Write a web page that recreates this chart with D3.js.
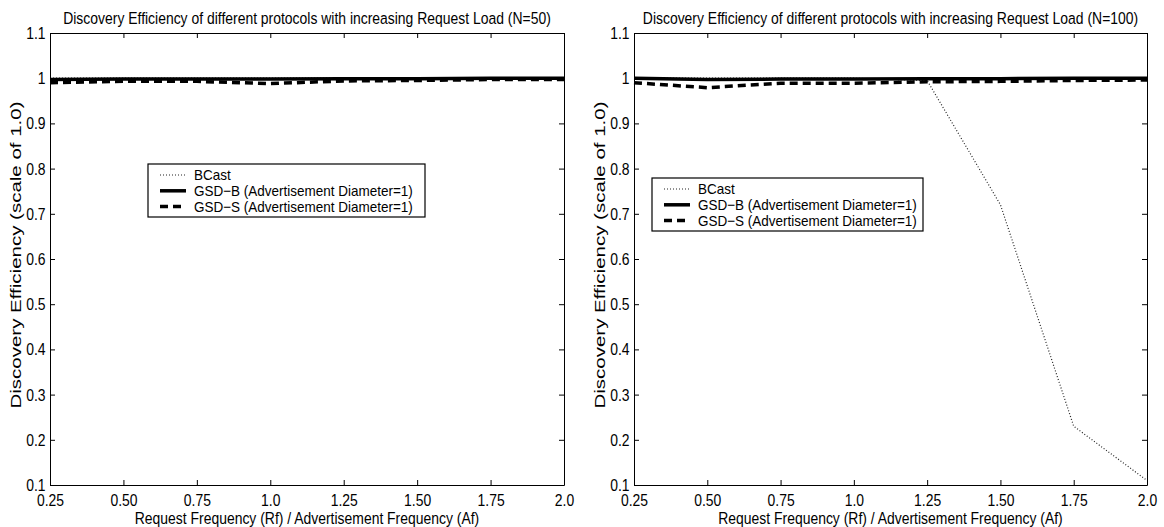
<!DOCTYPE html>
<html><head><meta charset="utf-8">
<script src="https://cdn.jsdelivr.net/npm/d3@7"></script>
<style>
body{margin:0;background:#fff;}
svg{display:block;font-family:"Liberation Sans",Arial,Helvetica,sans-serif;}
</style></head>
<body><svg id="c" width="1164" height="527"></svg>
<script>
const xValues = [0.25, 0.5, 0.75, 1.0, 1.25, 1.5, 1.75, 2.0];
const xTickLabels = ["0.25","0.50","0.75","1.0","1.25","1.50","1.75","2.0"];
const yTicks = [0.1,0.2,0.3,0.4,0.5,0.6,0.7,0.8,0.9,1.0,1.1];
const yTickLabels = ["0.1","0.2","0.3","0.4","0.5","0.6","0.7","0.8","0.9","1","1.1"];
const seriesNames = ["BCast","GSD\u2212B (Advertisement Diameter=1)","GSD\u2212S (Advertisement Diameter=1)"];

const n50_bcast = [1.0, 1.0, 1.0, 1.0, 1.0, 1.0, 1.0, 1.0];
const n50_gsdB  = [0.997, 0.998, 0.998, 0.998, 0.999, 0.999, 1.0, 1.0];
const n50_gsdS  = [0.990, 0.993, 0.993, 0.988, 0.994, 0.995, 0.997, 0.997];

const n100_bcast = [1.0, 1.0, 1.0, 1.0, 0.995, 0.72, 0.23, 0.11];
const n100_gsdB  = [1.0, 0.997, 0.998, 0.998, 0.999, 0.999, 1.0, 1.0];
const n100_gsdS  = [0.990, 0.979, 0.989, 0.989, 0.992, 0.993, 0.995, 0.996];

const titles = [
 "Discovery Efficiency of different protocols with increasing Request Load (N=50)",
 "Discovery Efficiency of different protocols with increasing Request Load (N=100)"
];
const xTitle = "Request Frequency (Rf) / Advertisement Frequency (Af)";
const yTitle = "Discovery Efficiency (scale of 1.0)";

const styles = [
  {stroke:"#222", width:1.2, dash:"1,2"},
  {stroke:"#000", width:3.5, dash:null},
  {stroke:"#000", width:3.5, dash:"8,5"}
];
const FS = 17, SX = 0.82;      // axis text: height, horizontal squeeze
const LFS = 15, LSX = 0.9;     // legend text
const YFS = 20.5, YSX = 0.68;  // rotated y title

const svg = d3.select("#c");

function hText(g, x, y, txt, size, sx, anchor){
  return g.append("text").attr("transform",`translate(${x},${y}) scale(${sx},1)`)
    .attr("text-anchor",anchor||"start").style("font-size",size+"px").attr("fill","#000").text(txt);
}

function panel(cfg){
  const {left,right,top,bottom,data,title,legend,yTitleX} = cfg;
  const x = d3.scaleLinear().domain([0.25,2.0]).range([left,right]);
  const y = d3.scaleLinear().domain([0.1,1.1]).range([bottom,top]);
  const g = svg.append("g");

  const line = d3.line().x((d,i)=>x(xValues[i])).y(d=>y(d));
  data.forEach((vals,k)=>{
    const s = styles[k];
    g.append("path").attr("d",line(vals)).attr("fill","none")
     .attr("stroke",s.stroke).attr("stroke-width",s.width)
     .attr("stroke-dasharray",s.dash);
  });

  const fmtX = (d)=>xTickLabels[xValues.indexOf(d)];
  const fmtY = (d)=>yTickLabels[yTicks.findIndex(v=>Math.abs(v-d)<1e-9)];
  const ax = [
    g.append("g").attr("transform",`translate(0,${bottom})`)
      .call(d3.axisBottom(x).tickValues(xValues).tickFormat(fmtX).tickSizeInner(-5).tickSizeOuter(0).tickPadding(9)),
    g.append("g").attr("transform",`translate(0,${top})`)
      .call(d3.axisTop(x).tickValues(xValues).tickFormat("").tickSizeInner(-5).tickSizeOuter(0)),
    g.append("g").attr("transform",`translate(${left},0)`)
      .call(d3.axisLeft(y).tickValues(yTicks).tickFormat(fmtY).tickSizeInner(-5).tickSizeOuter(0).tickPadding(5.5)),
    g.append("g").attr("transform",`translate(${right},0)`)
      .call(d3.axisRight(y).tickValues(yTicks).tickFormat("").tickSizeInner(-5).tickSizeOuter(0))
  ];
  ax.forEach(a=>{
    a.selectAll("text").attr("fill","#000").style("font-size",FS+"px")
     .style("font-family","'Liberation Sans',Arial,sans-serif")
     .attr("transform",`scale(${SX},1)`);
    a.selectAll("line").attr("stroke","#000");
    a.select(".domain").attr("stroke","#000");
  });

  hText(g,(left+right)/2, top-9, title, FS, SX, "middle");
  hText(g,(left+right)/2, bottom+38.5, xTitle, FS, SX, "middle");
  g.append("text").attr("transform",`translate(${yTitleX},${(top+bottom)/2 - 4}) scale(${YSX},1) rotate(-90)`)
   .attr("text-anchor","middle").attr("dy","0.35em").style("font-size",YFS+"px").text(yTitle);

  // legend
  const lg = g.append("g").attr("transform",`translate(${legend.x},${legend.y})`);
  lg.append("rect").attr("x",0).attr("y",0).attr("width",legend.w).attr("height",53)
    .attr("fill","#fff").attr("stroke","#000").attr("stroke-width",1.2);
  seriesNames.forEach((nm,k)=>{
    const yy = 11 + k*15.8;
    const s = styles[k];
    lg.append("line").attr("x1",12).attr("x2",38).attr("y1",yy).attr("y2",yy)
      .attr("stroke",s.stroke).attr("stroke-width",s.width).attr("stroke-dasharray",s.dash);
    hText(lg, 46, yy+5, nm, LFS, LSX, "start");
  });
}

panel({left:50,right:564,top:33,bottom:485,data:[n50_bcast,n50_gsdB,n50_gsdS],title:titles[0],legend:{x:148,y:164,w:277},yTitleX:16});
panel({left:634,right:1147,top:33,bottom:485,data:[n100_bcast,n100_gsdB,n100_gsdS],title:titles[1],legend:{x:652,y:178,w:271},yTitleX:600});
</script></body></html>
